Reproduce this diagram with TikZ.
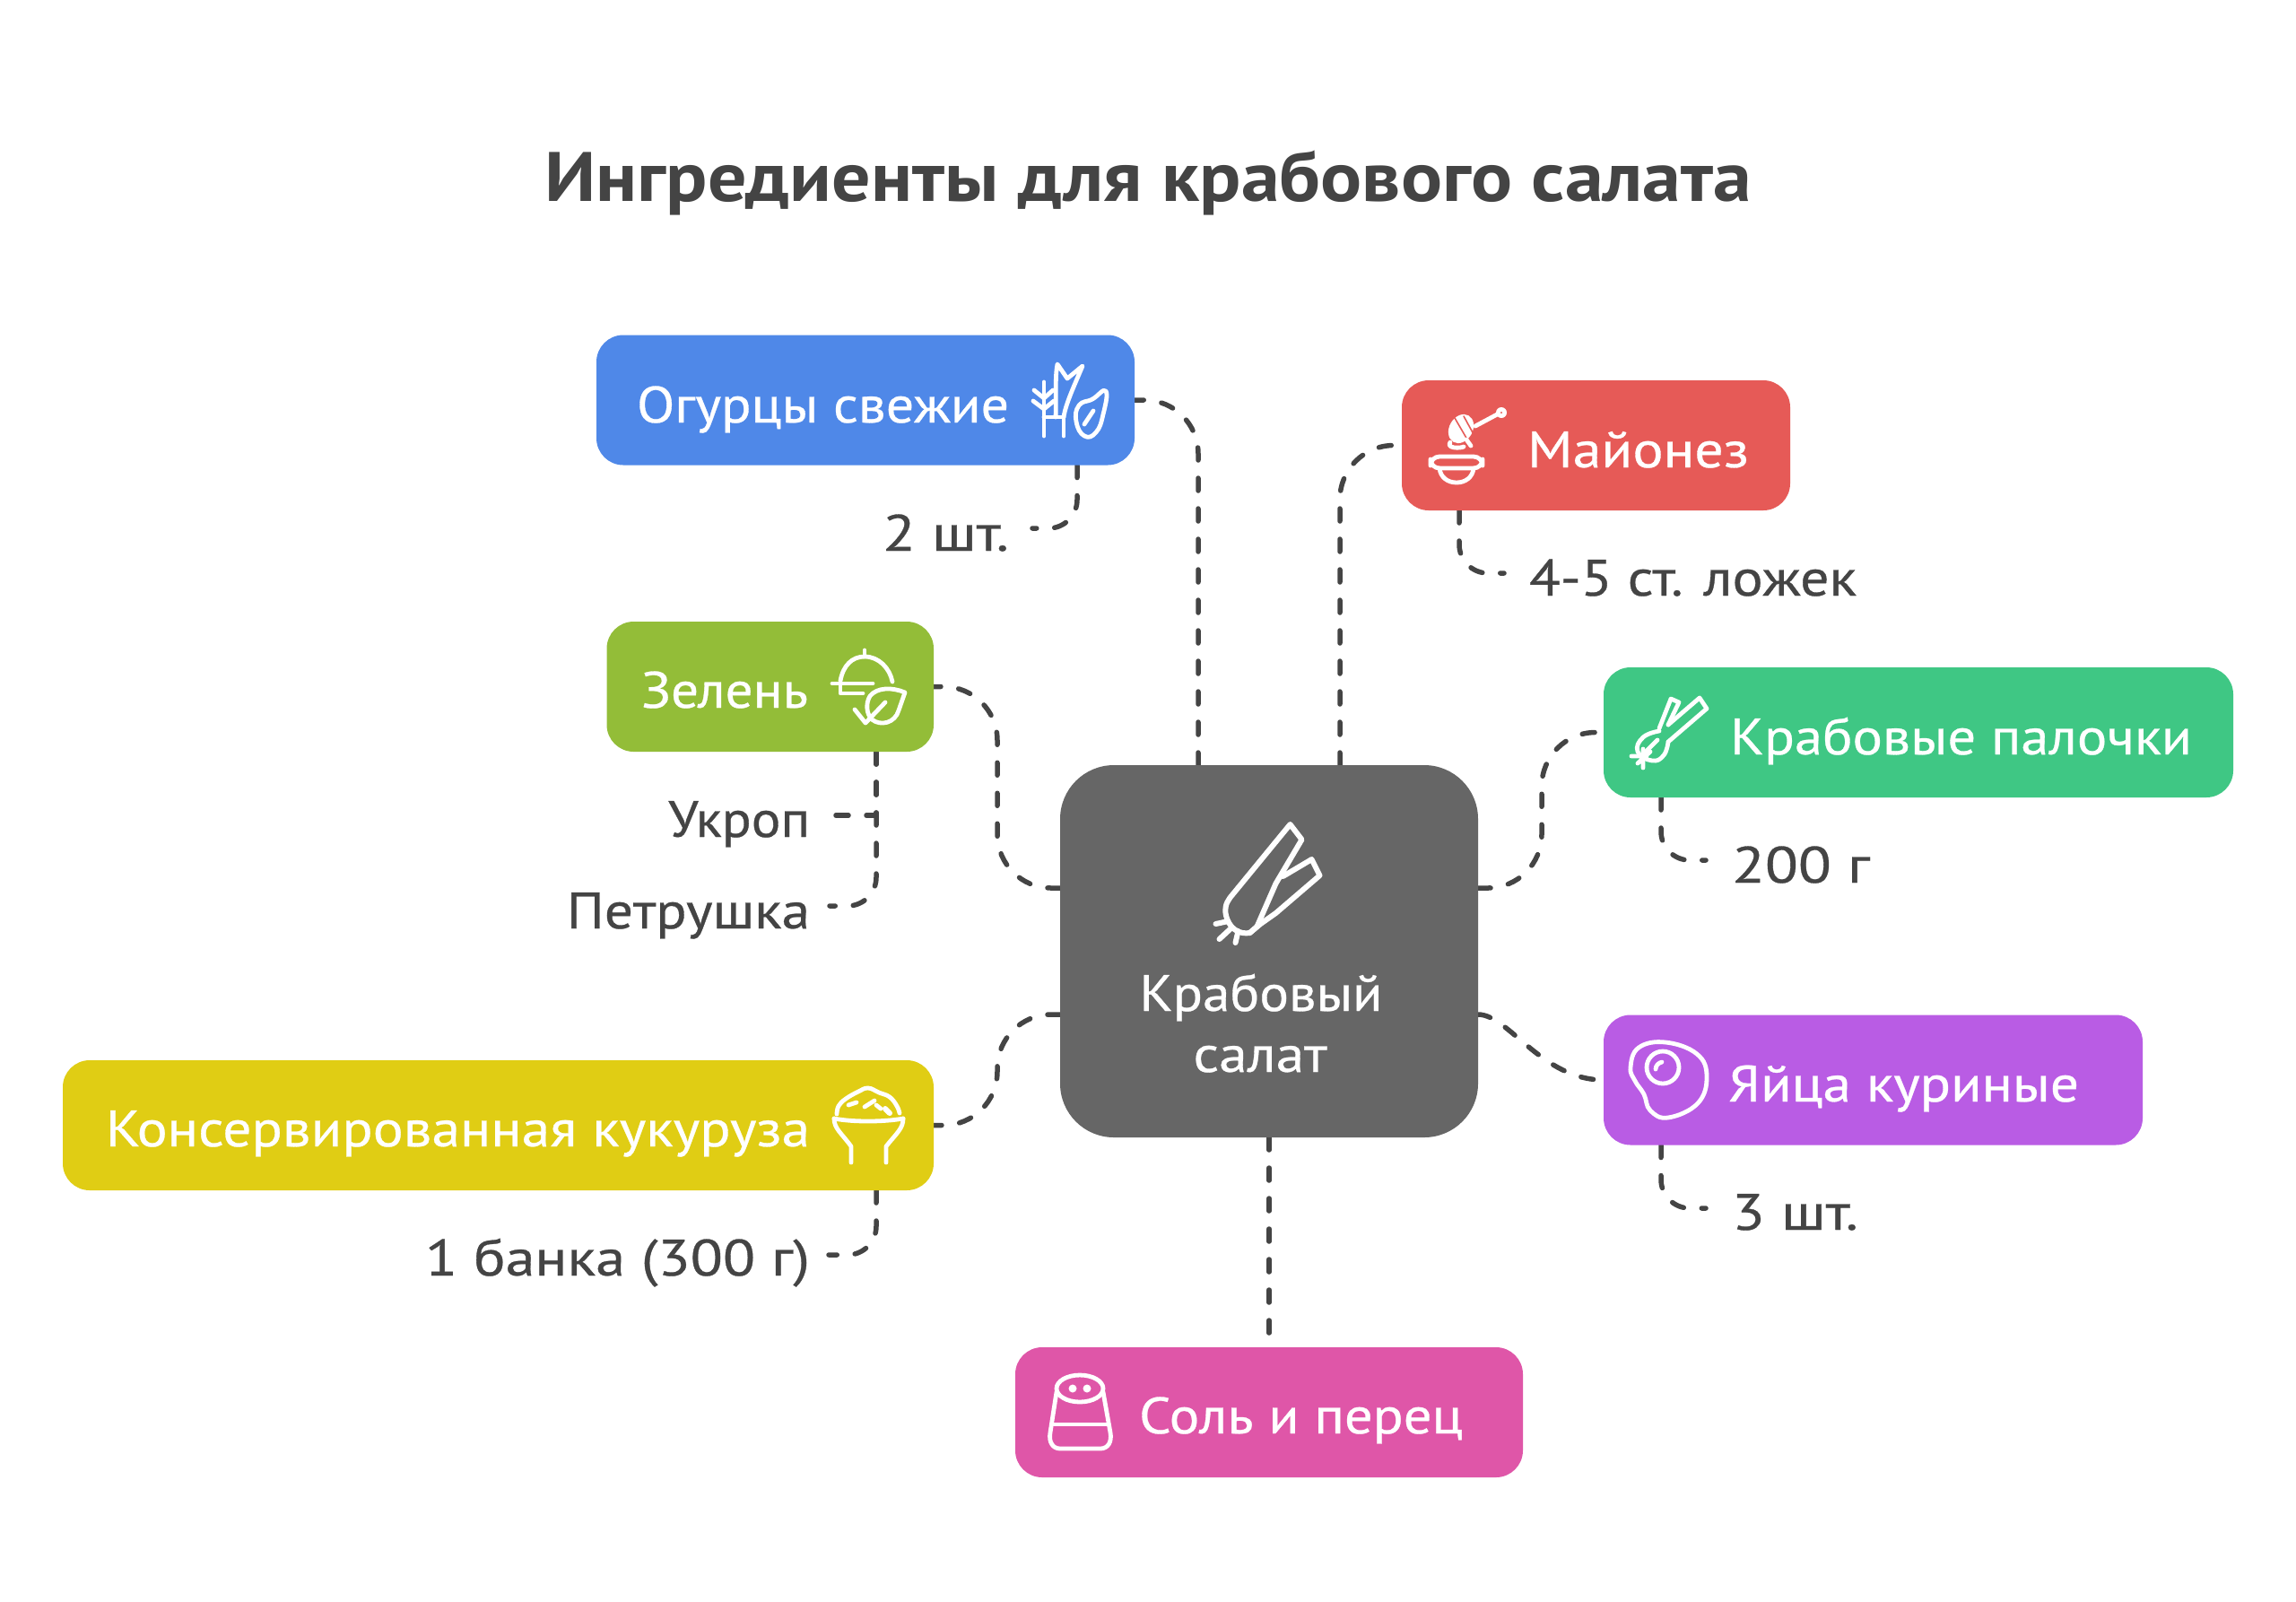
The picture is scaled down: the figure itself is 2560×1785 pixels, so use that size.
\documentclass[tikz,border=0pt]{standalone}
\usepackage{graphicx}
\usepackage{fontspec}
\setmainfont{PT Sans}
\usetikzlibrary{backgrounds}
\definecolor{ink}{HTML}{444444}
\definecolor{cblue}{HTML}{4F88E8}
\definecolor{cgreen}{HTML}{93BD38}
\definecolor{cgrey}{HTML}{666666}
\definecolor{cred}{HTML}{E65A57}
\definecolor{cteal}{HTML}{3FC784}
\definecolor{cpurple}{HTML}{B95CE4}
\definecolor{cpink}{HTML}{DF56A8}
\definecolor{cyellow}{HTML}{E0CD14}
\newdimen\pxu \pxu=0.5pt
\newcommand{\fitw}[2]{\resizebox{#1\pxu}{\height}{#2}}
\tikzset{
  pill/.style={rounded corners=15pt, minimum height=72.5pt, inner sep=0pt, outer sep=0pt},
  lab/.style={anchor=base west, inner sep=0pt, outer sep=0pt, font=\fontsize{28.5}{30}\selectfont\addfontfeature{FakeBold=0.5}},
  wlab/.style={lab, text=white},
  dlab/.style={lab, text=ink},
  plainconn/.style={draw=ink, line width=2.75pt, line cap=round, dash pattern=on 7pt off 10pt},
  conn/.style={plainconn, rounded corners=30pt},
  sub/.style={plainconn, rounded corners=16pt},
  ico/.style={draw=white, line width=2.4pt, line cap=round, line join=round},
}
\begin{document}
\begin{tikzpicture}[x=0.5pt,y=-0.5pt]
\useasboundingbox (0,0) rectangle (2560,1785);
% boxes
\node[pill, fill=cgrey, rounded corners=30pt, minimum width=233pt, minimum height=207.5pt] (centre) at (1415,1060.5) {};
\node[pill, fill=cblue, minimum width=300pt] (blue) at (965,446) {};
\node[pill, fill=cgreen, minimum width=182.25pt] (green) at (858.75,765.5) {};
\node[pill, fill=cyellow, minimum width=485.5pt] (yellow) at (555.5,1254.5) {};
\node[pill, fill=cred, minimum width=216.5pt] (red) at (1779.5,496.5) {};
\node[pill, fill=cteal, minimum width=351pt] (teal) at (2139,816.5) {};
\node[pill, fill=cpurple, minimum width=300.5pt] (purple) at (2088.5,1204) {};
\node[pill, fill=cpink, minimum width=283pt] (pink) at (1415,1574.5) {};
% texts
\node[lab, text=ink, font=\bfseries\fontsize{39}{40}\selectfont] (title) at (607,224) {\fitw{1346}{Ингредиенты для крабового салата}};
\node[wlab] (t1) at (710,471) {\fitw{415}{Огурцы свежие}};
\node[wlab] (t2) at (715,789) {\fitw{186}{Зелень}};
\node[wlab] (t3) at (118,1278) {\fitw{785}{Консервированная кукуруза}};
\node[wlab] (t4) at (1703,521) {\fitw{247}{Майонез}};
\node[wlab] (t5) at (1929,841) {\fitw{515}{Крабовые палочки}};
\node[wlab] (t6) at (1927,1228) {\fitw{391}{Яйца куриные}};
\node[wlab] (t7) at (1270,1598) {\fitw{361}{Соль и перец}};
\node[wlab] (t8) at (1270.5,1127) {\fitw{271}{Крабовый}};
\node[wlab] (t9) at (1330.5,1195) {\fitw{149}{салат}};
\node[dlab] (d1) at (984,614) {\fitw{141}{2 шт.}};
\node[dlab] (d2) at (745,933) {\fitw{158}{Укроп}};
\node[dlab] (d3) at (632,1035) {\fitw{271}{Петрушка}};
\node[dlab] (d4) at (474,1422) {\fitw{429}{1 банка (300 г)}};
\node[dlab] (d5) at (1705,664) {\fitw{365}{4-5 ст. ложек}};
\node[dlab] (d6) at (1931,984) {\fitw{154}{200 г}};
\node[dlab] (d7) at (1931,1371) {\fitw{141}{3 шт.}};
% connector helpers
\coordinate (gx) at (1112,900);
\coordinate (tx) at (1719,900);
\coordinate (cWa) at ([yshift=35.25pt]centre.west);
\coordinate (cWb) at ([yshift=-35.25pt]centre.west);
\coordinate (cEa) at ([yshift=35.25pt]centre.east);
\coordinate (cEb) at ([yshift=-35.25pt]centre.east);
\coordinate (e1) at (1151,589);
\coordinate (e2) at (927,909);
\coordinate (e3) at (925,1010);
\coordinate (e4) at (924,1399);
\coordinate (e5) at (1677,639);
\coordinate (e6) at (1902,959);
\coordinate (e7) at (1902,1347);
\begin{scope}[on background layer]
\fill[white] (0,0) rectangle (2560,1785);
\draw[conn] ([xshift=-39.5pt]centre.north) |- (blue.east);
\draw[conn] (cWa) -- (cWa -| gx) -- (gx |- green.east) -- (green.east);
\draw[conn] (cWb) -- (cWb -| gx) -- (gx |- yellow.east) -- (yellow.east);
\draw[conn] ([xshift=39.5pt]centre.north) |- (red.west);
\draw[conn] (cEa) -- (cEa -| tx) -- (tx |- teal.west) -- (teal.west);
\draw[plainconn] (cEb) .. controls +(34,0) and (1719,1204) .. (purple.west);
\draw[conn] (centre.south) -- (pink.north);
\draw[sub] ([xshift=-32pt]blue.south east) |- (e1);
\draw[plainconn] ([xshift=-32pt]green.south east) |- (e2);
\draw[sub] ([xshift=-32pt]green.south east) |- (e3);
\draw[sub] ([xshift=-32pt]yellow.south east) |- (e4);
\draw[sub] ([xshift=32pt]red.south west) |- (e5);
\draw[sub] ([xshift=32pt]teal.south west) |- (e6);
\draw[sub] ([xshift=32pt]purple.south west) |- (e7);
\end{scope}
% centre icon
\begin{scope}[ico, line width=3pt, shift={(-2.5,0)}]
\draw (1441,919) -- (1454,936) -- (1425,985) -- (1404,1033) -- (1396,1040) .. controls (1385,1042) and (1372,1036) .. (1369,1018) .. controls (1368,1008) and (1372,1003) .. (1377,997) -- cycle;
\draw (1433,977) -- (1465,958) -- (1474,976) -- (1425,1018) -- (1408,1030) -- (1396,1040);
\draw (1358,1030) -- (1372,1027) (1362,1047) -- (1375,1035) (1380,1051) -- (1383,1038);
\end{scope}
% blue icon
\begin{scope}[ico]
\draw (1164,486) -- (1164,426) (1186,486) -- (1186,465) (1164,465) -- (1186,465);
\draw (1153,435) -- (1164,444) -- (1174,435) (1152,447) -- (1164,456) -- (1175,447);
\draw (1186,465) .. controls (1188,450) and (1200,425) .. (1207,408) -- (1190,422) -- (1179,406) .. controls (1176,420) and (1178,445) .. (1177,465);
\draw plot[smooth cycle, tension=.8] coordinates {(1233,436) (1230,462) (1222,482) (1209,486) (1200,470) (1203,452) (1218,445)};
\draw (1209,473) -- (1219,458);
\end{scope}
% green icon
\begin{scope}[ico]
\draw (964,725) -- (964,732);
\draw (937,759) .. controls (940,742) and (950,732) .. (964,732) .. controls (980,732) and (992,745) .. (995,760);
\draw (928,762) -- (973,762);
\draw (937,762) -- (937,773) -- (962,773);
\draw (1009,772) .. controls (995,766) and (978,766) .. (970,776) .. controls (965,784) and (966,796) .. (972,802) .. controls (982,810) and (998,806) .. (1002,792) -- cycle;
\draw (953,791) -- (965,806) -- (987,783);
\end{scope}
% yellow icon
\begin{scope}[ico]
\draw (930,1247) .. controls (950,1251) and (985,1251) .. (1007,1247);
\draw (930,1247) .. controls (930,1258) and (938,1263) .. (949,1278) -- (949,1296);
\draw (1007,1247) .. controls (1007,1258) and (1000,1263) .. (988,1278) -- (988,1296);
\draw plot[smooth, tension=.7] coordinates {(933,1242) (935,1233) (943,1225) (957,1217) (968,1213) (980,1218) (992,1223) (1000,1233) (1003,1241)};
\draw (946,1232) -- (955,1229) (964,1234) -- (975,1227) (977,1232) -- (982,1236);
\draw[line width=3pt] (987,1236) -- (992,1241);
\end{scope}
% red icon
\begin{scope}[ico]
\draw (1645,475) -- (1673,460);
\fill[white] (1674,460) circle (6);
\fill[cred] (1674,460) circle (1.2);
\fill[white, rotate around={-30:(1629,478)}] (1629,478) ellipse (13 and 17);
\draw[cred, line width=0.8pt] (1622,466) -- (1636,490) (1632,464) -- (1643,484);
\draw (1617,493) .. controls (1612,500) and (1628,500) .. (1632,498) (1635,490) -- (1640,497);
\draw[rounded corners=5pt] (1595,509) rectangle (1653,522);
\draw (1605,522) .. controls (1606,532) and (1614,538) .. (1624,538) .. controls (1634,538) and (1642,532) .. (1643,522);
\end{scope}
% teal icon
\begin{scope}[ico]
\draw (1850,812) -- (1863,779) -- (1872,783) -- (1860,808);
\draw (1860,808) -- (1895,778) -- (1903,790) -- (1860,827);
\draw plot[smooth, tension=.8] coordinates {(1850,815) (1832,822) (1826,838) (1842,848) (1855,842) (1860,827)};
\draw (1835,838) -- (1848,825);
\draw (1819,843) -- (1836,843) (1832,835) -- (1832,856) (1826,851) -- (1840,838);
\end{scope}
% purple icon
\begin{scope}[ico]
\draw plot[smooth cycle, tension=.7] coordinates {(1818,1190) (1827,1168) (1857,1162) (1892,1175) (1903,1200) (1893,1230) (1860,1246) (1840,1238) (1833,1220) (1823,1205)};
\draw (1854,1190) circle (18);
\draw (1846,1192) .. controls (1846,1188) and (1849,1185) .. (1853,1184);
\end{scope}
% pink icon
\begin{scope}[ico]
\draw (1204,1548) ellipse (26 and 15);
\fill[white] (1196,1548) circle (4.5) (1212,1548) circle (4.5);
\draw (1178,1552) -- (1171,1597) .. controls (1169,1608) and (1174,1615) .. (1182,1615) -- (1227,1615) .. controls (1235,1615) and (1240,1608) .. (1238,1597) -- (1230,1552);
\draw (1175,1588) -- (1234,1588);
\end{scope}
\end{tikzpicture}
\end{document}
